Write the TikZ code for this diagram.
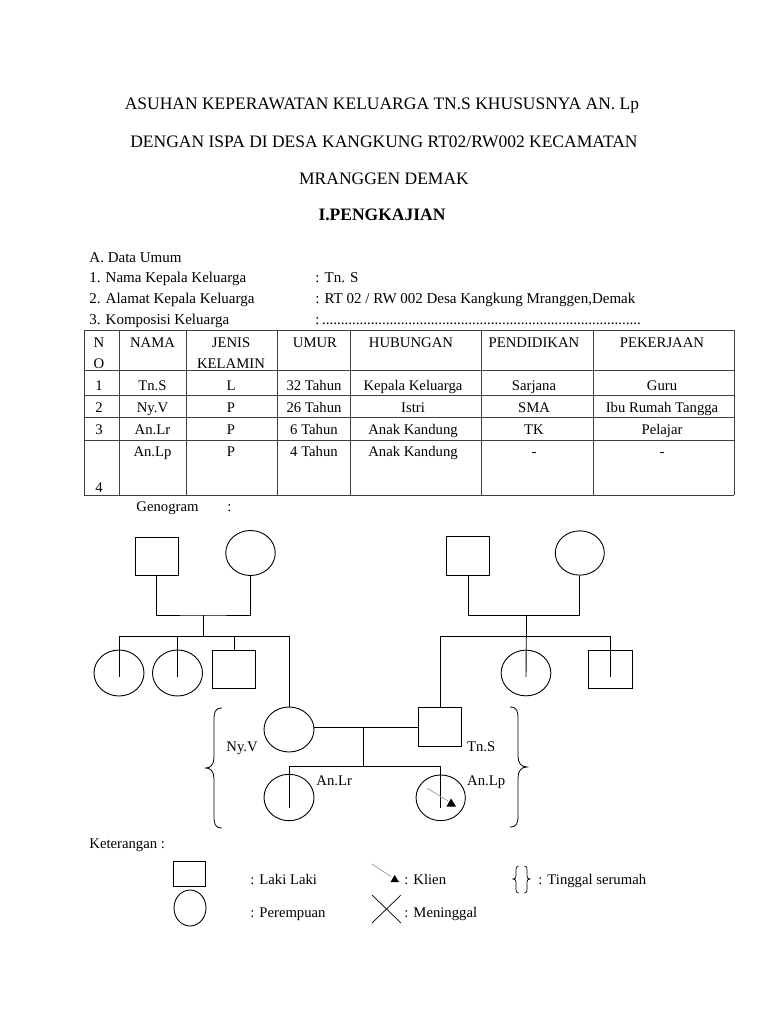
\documentclass[tikz,border=0pt]{standalone}
\usepackage{fontspec}
\setmainfont{Liberation Serif}
\usetikzlibrary{shapes.geometric,calc}
\newcommand\mybody{\fontsize{14.7}{17}\selectfont}
\newcommand\mylist{\fontsize{15}{17}\selectfont}
\newcommand\mytitle{\fontsize{17.5}{20}\selectfont}
\begin{document}
\begin{tikzpicture}[x=1pt,y=-1pt,
  line width=0.9pt,
  txt/.style={inner sep=0pt, font=\mybody},
  lst/.style={inner sep=0pt, font=\mylist, anchor=base west},
  ttl/.style={inner sep=0pt, font=\mytitle, anchor=base},
  cell/.style={inner sep=0pt, font=\mybody, anchor=base},
  male/.style={draw, rectangle, inner sep=0pt, minimum width=43pt, minimum height=38pt},
  female/.style={draw, ellipse, inner sep=0pt, minimum width=49.5pt, minimum height=45pt},
  grid/.style={draw=black!75, line width=0.8pt}]
\useasboundingbox (0,0) rectangle (768,1024);

% titles
\node[ttl] (t1) at (382,110) {ASUHAN KEPERAWATAN KELUARGA TN.S KHUSUSNYA AN. Lp};
\node[ttl] (t2) at (384,148) {DENGAN ISPA DI DESA KANGKUNG RT02/RW002 KECAMATAN};
\node[ttl] (t3) at (384,185) {MRANGGEN DEMAK};
\node[ttl, font=\mytitle\bfseries] (t4) at (382,221) {I.PENGKAJIAN};

% data umum
\node[lst] (a0) at (89,262) {A. Data Umum};
\node[lst] (a1) at (89,282) {1. Nama Kepala Keluarga};
\node[lst] (a2) at (89,303) {2. Alamat Kepala Keluarga};
\node[lst] (a3) at (89,324) {3. Komposisi Keluarga};
\node[lst] (b1) at (315,282) {: Tn. S};
\node[lst] (b2) at (315,303) {: RT 02 / RW 002 Desa Kangkung Mranggen,Demak};
\node[lst] (b3) at (315,324) {:\,.....................................................................................};

% table grid
\foreach \xx in {84,119,186,277,350,481,593,734} \draw[grid] (\xx,330) -- (\xx,495);
\foreach \yy in {330,370,395,417,440,495} \draw[grid] (84,\yy) -- (734,\yy);

% header
\node[cell] (hn) at (99,347) {N};
\node[cell] (ho) at (99,368) {O};
\node[cell] (hnama) at (152.5,347) {NAMA};
\node[cell] (hjk1) at (231,347) {JENIS};
\node[cell] (hjk2) at (231,368) {KELAMIN};
\node[cell] (hum) at (315,347) {UMUR};
\node[cell] (hhub) at (411,347) {HUBUNGAN};
\node[cell] (hpend) at (534,347) {PENDIDIKAN};
\node[cell] (hpek) at (662,347) {PEKERJAAN};

% rows
\node[cell] (r1a) at (99,390) {1};
\node[cell] (r1b) at (152.5,390) {Tn.S};
\node[cell] (r1c) at (231,390) {L};
\node[cell] (r1d) at (314,390) {32 Tahun};
\node[cell] (r1e) at (413,390) {Kepala Keluarga};
\node[cell] (r1f) at (534,390) {Sarjana};
\node[cell] (r1g) at (662,390) {Guru};

\node[cell] (r2a) at (99,412) {2};
\node[cell] (r2b) at (152.5,412) {Ny.V};
\node[cell] (r2c) at (231,412) {P};
\node[cell] (r2d) at (314,412) {26 Tahun};
\node[cell] (r2e) at (413,412) {Istri};
\node[cell] (r2f) at (534,412) {SMA};
\node[cell] (r2g) at (662,412) {Ibu Rumah Tangga};

\node[cell] (r3a) at (99,434.5) {3};
\node[cell] (r3b) at (152.5,434.5) {An.Lr};
\node[cell] (r3c) at (231,434.5) {P};
\node[cell] (r3d) at (314,434.5) {6 Tahun};
\node[cell] (r3e) at (413,434.5) {Anak Kandung};
\node[cell] (r3f) at (534,434.5) {TK};
\node[cell] (r3g) at (662,434.5) {Pelajar};

\node[cell] (r4a) at (99,492.5) {4};
\node[cell] (r4b) at (152.5,456) {An.Lp};
\node[cell] (r4c) at (231,456) {P};
\node[cell] (r4d) at (314,456) {4 Tahun};
\node[cell] (r4e) at (413,456) {Anak Kandung};
\node[cell] (r4f) at (534,456) {-};
\node[cell] (r4g) at (662,456) {-};

% genogram label
\node[txt, anchor=base west] (gen) at (136,511) {Genogram};
\node[txt, anchor=base west] (genc) at (227,511) {:};

% ---- genogram left family
\node[male] (gf1) at (156.5,556) {};
\node[female] (gm1) at (250.5,553) {};
\coordinate (m1) at (203.3,615);
\coordinate (s1) at (203.3,636);
\draw (gf1.south) |- (m1) -| (gm1.south);
\draw (m1) -- (s1);
\node[female, minimum width=50pt, minimum height=46pt] (c1) at (119,673) {};
\node[female, minimum width=50pt, minimum height=46pt] (c2) at (177.5,673) {};
\node[male, minimum width=43.4pt, minimum height=37.6pt] (c3) at (234,669.5) {};
\node[female, minimum width=50pt, minimum height=45pt] (nyv) at (289,729.5) {};
\draw (c1.center |- s1) -- (nyv.center |- s1);
\draw (c1.center |- s1) -- ($(c1.center)+(0,4)$);
\draw (c2.center |- s1) -- ($(c2.center)+(0,4)$);
\draw (c3.center |- s1) -- (c3.north);
\draw (nyv.center |- s1) -- (nyv.north);

% ---- genogram right family
\node[male, minimum width=42.6pt, minimum height=38.6pt] (gf2) at (468,556) {};
\node[female, minimum width=49pt, minimum height=44.3pt] (gm2) at (579.8,553) {};
\coordinate (m2) at (526.3,615.7);
\coordinate (s2) at (526.3,636.7);
\draw (gf2.south) |- (m2) -| (gm2.south);
\draw (m2) -- (s2);
\node[female, minimum width=49.7pt, minimum height=45.7pt] (c4) at (526,673) {};
\node[male, minimum width=43.6pt, minimum height=37.6pt] (c5) at (610.5,669.5) {};
\node[male, minimum width=43pt, minimum height=38.3pt] (tns) at (440.2,727) {};
\draw (tns.center |- s2) -- (c5.center |- s2);
\draw (s2) -- ($(c4.center)+(0,4)$);
\draw (c5.center |- s2) -- ($(c5.center)+(0,7)$);
\draw (tns.center |- s2) -- (tns.north);

% ---- nuclear family
\draw (tns.west) -- (tns.west -| nyv.east);
\coordinate (m3) at (363.3,727);
\coordinate (s3) at (363.3,766.7);
\draw (m3) -- (s3);
\node[female, minimum width=50pt, minimum height=46.4pt] (lr) at (289,797.5) {};
\node[female, minimum width=49.3pt, minimum height=45.7pt] (lp) at (440.7,797.8) {};
\draw (lr.center |- s3) -- (lp.center |- s3);
\draw (lr.center |- s3) -- ($(lr.center)+(0,10)$);
\draw (lp.center |- s3) -- ($(lp.center)+(0,10)$);
% klien mark
\coordinate (k1) at (427.3,788.3);
\coordinate (k2) at (448,801);
\draw[line width=0.6pt, black!45] (k1) -- (k2);
\fill (446.5,806.5) -- (456,806.5) -- (451,798.5) -- cycle;

% labels
\node[txt, anchor=base west] (lnyv) at (226,751.5) {Ny.V};
\node[txt, anchor=base west] (ltns) at (466.7,751.5) {Tn.S};
\node[txt, anchor=base west] (llr) at (316,785) {An.Lr};
\node[txt, anchor=base west] (llp) at (466.7,785.5) {An.Lp};

% braces (tinggal serumah)
\draw[line width=0.8pt] (222,708) .. controls (215,708) and (214,712) .. (214,720) -- (214,757)
  .. controls (214,764) and (211,768) .. (206,768) .. controls (211,768) and (214,772) .. (214,779)
  -- (214,816) .. controls (214,824) and (215,828) .. (222,828);
\draw[line width=0.8pt] (510,707) .. controls (517,707) and (518,711) .. (518,719) -- (518,756)
  .. controls (518,763) and (521,767) .. (527,767) .. controls (521,767) and (518,771) .. (518,778)
  -- (518,815) .. controls (518,823) and (517,827) .. (510,827);

% ---- legend
\node[txt, anchor=base west] (ket) at (89,848) {Keterangan :};
\node[draw, rectangle, inner sep=0pt, minimum width=32pt, minimum height=25pt] (lsq) at (189,874) {};
\node[draw, ellipse, inner sep=0pt, minimum width=32pt, minimum height=36pt] (lci) at (190,908) {};
\node[txt, anchor=base west] (tlaki) at (250,884) {: Laki Laki};
\node[txt, anchor=base west] (tper) at (250,917) {: Perempuan};
\coordinate (kl1) at (372,864);
\coordinate (kl2) at (391,876.5);
\draw[line width=0.6pt, black!45] (kl1) -- (kl2);
\fill (390.5,882) -- (399,882) -- (394.7,875) -- cycle;
\node[txt, anchor=base west] (tkl) at (404,884) {: Klien};
\coordinate (x1) at (372,895);
\coordinate (x2) at (401,923);
\coordinate (x3) at (401,895);
\coordinate (x4) at (372,923);
\draw[line width=0.7pt] (x1) -- (x2);
\draw[line width=0.7pt] (x3) -- (x4);
\node[txt, anchor=base west] (tmen) at (404,917) {: Meninggal};
\draw[line width=0.7pt] (518.5,866) .. controls (516,866) and (516,868) .. (516,870) -- (516,876)
  .. controls (516,878) and (515,879) .. (513,879) .. controls (515,879) and (516,880) .. (516,882)
  -- (516,889) .. controls (516,891) and (516,893) .. (518.5,893);
\draw[line width=0.7pt] (524.5,866) .. controls (527,866) and (527,868) .. (527,870) -- (527,876)
  .. controls (527,878) and (528,879) .. (530,879) .. controls (528,879) and (527,880) .. (527,882)
  -- (527,889) .. controls (527,891) and (527,893) .. (524.5,893);
\node[txt, anchor=base west] (tts) at (538,884) {: Tinggal serumah};
\end{tikzpicture}
\end{document}
